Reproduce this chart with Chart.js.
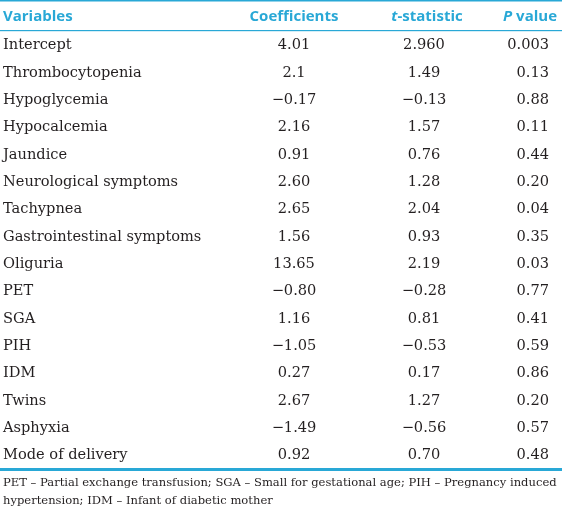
<!DOCTYPE html>
<html>
<head>
<meta charset="utf-8">
<script src="https://cdn.jsdelivr.net/npm/chart.js@4.4.1/dist/chart.umd.min.js"></script>
<style>
  html, body { margin: 0; padding: 0; background: #ffffff; }
  #wrap { width: 562px; height: 511px; position: relative; }
</style>
</head>
<body>
<div id="wrap"><canvas id="c" width="562" height="511"></canvas></div>
<script>
const headers = ["Variables", "Coefficients", "t-statistic", "P value"];
const variables = ["Intercept", "Thrombocytopenia", "Hypoglycemia", "Hypocalcemia", "Jaundice",
  "Neurological symptoms", "Tachypnea", "Gastrointestinal symptoms", "Oliguria", "PET", "SGA",
  "PIH", "IDM", "Twins", "Asphyxia", "Mode of delivery"];
const coefficients = ["4.01", "2.1", "\u22120.17", "2.16", "0.91", "2.60", "2.65", "1.56", "13.65",
  "\u22120.80", "1.16", "\u22121.05", "0.27", "2.67", "\u22121.49", "0.92"];
const tStatistics = ["2.960", "1.49", "\u22120.13", "1.57", "0.76", "1.28", "2.04", "0.93", "2.19",
  "\u22120.28", "0.81", "\u22120.53", "0.17", "1.27", "\u22120.56", "0.70"];
const pValues = ["0.003", "0.13", "0.88", "0.11", "0.44", "0.20", "0.04", "0.35", "0.03", "0.77",
  "0.41", "0.59", "0.86", "0.20", "0.57", "0.48"];
const footnote = [
  "PET \u2013 Partial exchange transfusion; SGA \u2013 Small for gestational age; PIH \u2013 Pregnancy induced",
  "hypertension; IDM \u2013 Infant of diabetic mother"
];

const TEAL = "#29a8d6";
const TEXT = "#231f20";
const BODY_FONT = "14.6px 'DejaVu Serif', serif";
const HEAD_FONT = "bold 15px 'Open Sans'";
const HEAD_ITALIC = "italic bold 15px 'Open Sans'";

const tablePlugin = {
  id: "tablePlugin",
  afterDraw(chart) {
    const ctx = chart.ctx;
    const xs = chart.scales.x;
    const ys = chart.scales.y;
    const area = chart.chartArea;
    const colVar = xs.getPixelForValue(3);
    const colCoef = xs.getPixelForValue(294);
    const colT = xs.getPixelForValue(424);
    const colP = xs.getPixelForValue(549);
    ctx.save();
    // rules
    ctx.fillStyle = TEAL;
    ctx.fillRect(0, 0, chart.width, 1.5);
    ctx.fillRect(0, area.top - 1, chart.width, 1.2);
    ctx.fillRect(0, area.bottom, chart.width, 3);

    // header
    const hy = area.top / 2 + 1.5;
    ctx.textBaseline = "middle";
    ctx.fillStyle = TEAL;
    ctx.font = HEAD_FONT;
    ctx.textAlign = "left";
    ctx.fillText(headers[0], colVar, hy);
    ctx.textAlign = "center";
    ctx.fillText(headers[1], colCoef, hy);
    // t-statistic with italic t
    const tRest = headers[2].slice(1);
    ctx.font = HEAD_ITALIC;
    const wT = ctx.measureText("t").width;
    ctx.font = HEAD_FONT;
    const wRest = ctx.measureText(tRest).width;
    const sx = colT - (wT + wRest) / 2 + 3;
    ctx.textAlign = "left";
    ctx.font = HEAD_ITALIC;
    ctx.fillText("t", sx, hy);
    ctx.font = HEAD_FONT;
    ctx.fillText(tRest, sx + wT, hy);
    // P value with italic P
    ctx.font = HEAD_FONT;
    const pRest = headers[3].slice(1);
    const wPRest = ctx.measureText(pRest).width;
    ctx.font = HEAD_ITALIC;
    const wP = ctx.measureText("P").width;
    const px = colP + 8 - wPRest - wP;
    ctx.fillText("P", px, hy);
    ctx.font = HEAD_FONT;
    ctx.fillText(pRest, px + wP, hy);

    // body
    ctx.fillStyle = TEXT;
    ctx.font = BODY_FONT;
    variables.forEach((v, i) => {
      const y = ys.getPixelForValue(i) + 1;
      ctx.textAlign = "left";
      ctx.fillText(v, colVar, y);
      ctx.textAlign = "center";
      ctx.fillText(coefficients[i], colCoef, y);
      ctx.fillText(tStatistics[i], colT, y);
      ctx.textAlign = "right";
      ctx.fillText(pValues[i], colP, y);
    });

    // footnote
    ctx.font = "11.55px 'DejaVu Serif', serif";
    ctx.textAlign = "left";
    ctx.fillText(footnote[0], colVar, area.bottom + 15);
    ctx.fillText(footnote[1], colVar, area.bottom + 33);
    ctx.restore();
  }
};

new Chart(document.getElementById("c"), {
  type: "bar",
  data: {
    labels: variables,
    datasets: [{ data: variables.map(() => null), backgroundColor: "rgba(0,0,0,0)" }]
  },
  options: {
    responsive: false,
    animation: false,
    indexAxis: "y",
    layout: { padding: { top: 31, bottom: 43, left: 0, right: 0 } },
    plugins: { legend: { display: false }, tooltip: { enabled: false } },
    scales: {
      x: { type: "linear", min: 0, max: 562, display: false },
      y: { type: "category", display: false, offset: true }
    }
  },
  plugins: [tablePlugin]
});
</script>
</body>
</html>
